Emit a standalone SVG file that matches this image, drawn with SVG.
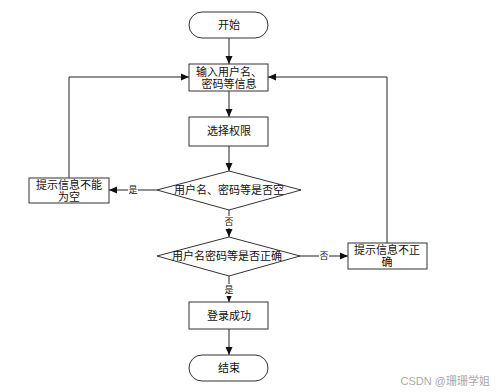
<svg xmlns="http://www.w3.org/2000/svg" width="499" height="392" viewBox="0 0 499 392">
<style>
.s{fill:#fff;stroke:#333;stroke-width:1}
.t{font-family:"Liberation Sans","Noto Sans CJK SC",sans-serif;font-size:11px;fill:#111;text-anchor:middle;dominant-baseline:central}
.l{font-family:"Liberation Sans","Noto Sans CJK SC",sans-serif;font-size:9px;fill:#111;text-anchor:middle;dominant-baseline:central}
.c{fill:none;stroke:#222;stroke-width:1;marker-end:url(#a)}
</style>
<defs>
<marker id="a" viewBox="0 0 8 8" refX="8" refY="4" markerWidth="8" markerHeight="8" markerUnits="userSpaceOnUse" orient="auto">
<path d="M0,0.5 L8,4 L0,7.5 Z" fill="#111"/>
</marker>
</defs>
<rect width="499" height="392" fill="#fff"/>
<g id="connectors">
<line class="c" x1="229" y1="38" x2="229" y2="64"/>
<line class="c" x1="229" y1="91" x2="229" y2="117"/>
<line class="c" x1="229" y1="146" x2="229" y2="171"/>
<line class="c" x1="157" y1="190" x2="109" y2="190"/>
<rect x="128" y="184" width="10" height="12" fill="#fff"/>
<text class="l" x="133" y="190">是</text>
<polyline class="c" points="69,178 69,77 189,77"/>
<line class="c" x1="229" y1="210" x2="229" y2="237"/>
<rect x="224" y="216" width="10" height="12" fill="#fff"/>
<text class="l" x="229" y="222">否</text>
<line class="c" x1="298" y1="256" x2="348" y2="256"/>
<rect x="319" y="250" width="10" height="12" fill="#fff"/>
<text class="l" x="324" y="256">否</text>
<polyline class="c" points="387,243 387,77 268,77"/>
<line class="c" x1="229" y1="276" x2="229" y2="302"/>
<rect x="224" y="284" width="10" height="12" fill="#fff"/>
<text class="l" x="229" y="290">是</text>
<line class="c" x1="229" y1="329" x2="229" y2="355"/>
</g>
<g id="start">
<rect class="s" x="189" y="12" width="79" height="26" rx="13"/>
<text class="t" x="229" y="25">开始</text>
</g>
<g id="input">
<rect class="s" x="189" y="64" width="79" height="27"/>
<text class="t" x="229" y="72">输入用户名、</text>
<text class="t" x="229" y="84">密码等信息</text>
</g>
<g id="select">
<rect class="s" x="189" y="117" width="79" height="29"/>
<text class="t" x="229" y="131">选择权限</text>
</g>
<g id="check-empty">
<polygon class="s" points="229,171 301,190 229,210 157,190"/>
<text class="t" x="229" y="190">用户名、密码等是否空</text>
</g>
<g id="empty-msg">
<rect class="s" x="29" y="178" width="80" height="25"/>
<text class="t" x="69" y="185">提示信息不能</text>
<text class="t" x="69" y="197">为空</text>
</g>
<g id="check-correct">
<polygon class="s" points="229,237 300,256 229,276 157,256"/>
<text class="t" x="227" y="256">用户名密码等是否正确</text>
</g>
<g id="wrong-msg">
<rect class="s" x="348" y="243" width="79" height="26"/>
<text class="t" x="387" y="250">提示信息不正</text>
<text class="t" x="387" y="262">确</text>
</g>
<g id="success">
<rect class="s" x="189" y="302" width="79" height="27"/>
<text class="t" x="229" y="316">登录成功</text>
</g>
<g id="end">
<rect class="s" x="189" y="355" width="79" height="26" rx="13"/>
<text class="t" x="229" y="368">结束</text>
</g>
<text x="490" y="381" font-family="'Liberation Sans','Noto Sans CJK SC',sans-serif" font-size="11" fill="#aaa" text-anchor="end" dominant-baseline="central">CSDN @珊珊学姐</text>
</svg>
